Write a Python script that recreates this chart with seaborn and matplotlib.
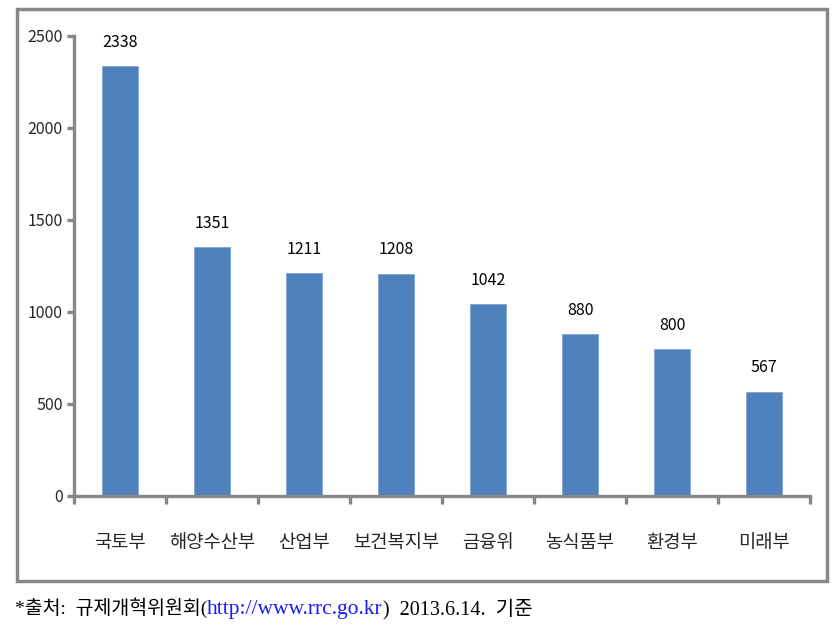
import matplotlib
matplotlib.use("Agg")
import matplotlib.pyplot as plt
import seaborn as sns
import pandas as pd
from matplotlib.patches import Rectangle
from matplotlib.ticker import FixedLocator

categories = ["국토부", "해양수산부", "산업부", "보건복지부", "금융위", "농식품부", "환경부", "미래부"]
values = [2338, 1351, 1211, 1208, 1042, 880, 800, 567]
yticks = [0, 500, 1000, 1500, 2000, 2500]
source_parts = ["*출처:  규제개혁위원회(", "http://www.rrc.go.kr", ")  2013.6.14.  기준"]

sns.set_style("white")
plt.rcParams['font.family'] = ['Noto Sans CJK KR', 'DejaVu Sans']

W, H = 837, 637
fig = plt.figure(figsize=(W / 100, H / 100), dpi=100)
ax = fig.add_axes([74 / W, 1 - 496 / H, (810 - 74) / W, (496 - 36) / H])

df = pd.DataFrame({"cat": categories, "val": values})
sns.barplot(data=df, x="cat", y="val", color="#4F81BD", width=0.4, ax=ax,
            edgecolor="#7FA3D0", linewidth=0.6, saturation=1)

ax.set_xlim(-0.5, len(categories) - 0.5)
ax.set_ylim(0, 2500)
ax.set_yticks(yticks)
ax.set_xlabel("")
ax.set_ylabel("")

for i, v in enumerate(values):
    ax.annotate(f"{v}", (i, v), xytext=(0, 11), textcoords="offset points",
                ha="center", va="bottom", fontsize=11.5, color="black")

gray = "#878787"
for s in ["top", "right"]:
    ax.spines[s].set_visible(False)
for s in ["left", "bottom"]:
    ax.spines[s].set_color(gray)
    ax.spines[s].set_linewidth(2.4)

ax.tick_params(axis="y", direction="out", length=5, width=2.4, color=gray,
               labelsize=11.5, pad=3, left=True)
ax.tick_params(axis="x", which="major", length=0, labelsize=13.5, pad=26)
ax.xaxis.set_minor_locator(FixedLocator([i - 0.5 for i in range(len(categories) + 1)]))
ax.tick_params(axis="x", which="minor", direction="out", length=6, width=2.4,
               color=gray, bottom=True)

fig.patches.append(Rectangle((17 / W, 1 - 581 / H), (827 - 17) / W, (581 - 9) / H,
                             transform=fig.transFigure, fill=False,
                             edgecolor="#888888", linewidth=2.5))

# source line
fig.canvas.draw()
renderer = fig.canvas.get_renderer()
x = 15 / W
y = 1 - 614 / H
colors = ["black", "#1a1aff", "black"]
sizes = [14, 15.5, 14.5]
for part, c, fs in zip(source_parts, colors, sizes):
    t = fig.text(x, y, part, fontsize=fs, color=c, ha="left", va="baseline",
                 family=["Liberation Serif", "Noto Sans CJK KR"])
    bb = t.get_window_extent(renderer=renderer)
    x = bb.x1 / W

fig.savefig("out.png", dpi=100)
